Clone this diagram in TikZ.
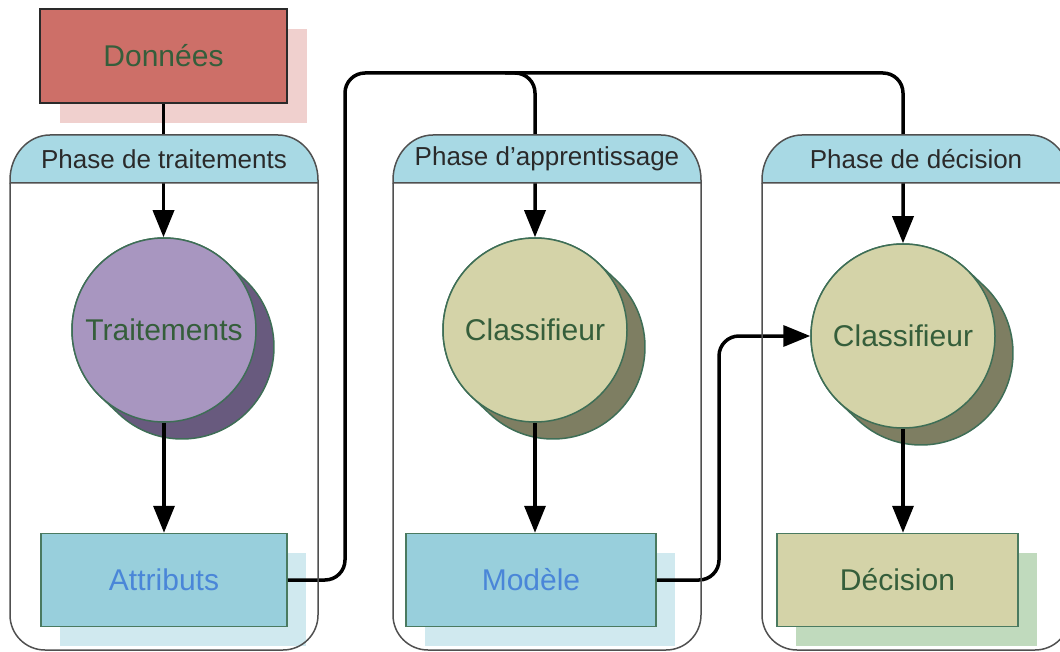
\documentclass[tikz,border=0pt]{standalone}
\usepackage{fontspec}
\setmainfont{Liberation Sans}
\usetikzlibrary{arrows.meta,calc,positioning,shadows,backgrounds}
\definecolor{rougeDon}{HTML}{CD6F68}
\definecolor{ombreRouge}{HTML}{F0D0CE}
\definecolor{texteVert}{HTML}{355E3B}
\definecolor{texteBleu}{HTML}{4A86D8}
\definecolor{texteTitre}{HTML}{2A2A2A}
\definecolor{lavande}{HTML}{A896C0}
\definecolor{ombreLavande}{HTML}{685A7E}
\definecolor{olive}{HTML}{D4D3A8}
\definecolor{ombreOlive}{HTML}{7E7E62}
\definecolor{bleuBoite}{HTML}{98CFDC}
\definecolor{ombreBleue}{HTML}{D0E9EF}
\definecolor{ombreVerte}{HTML}{C0DABD}
\definecolor{bleuTitre}{HTML}{A8D9E4}
\definecolor{bordDisque}{HTML}{3E6E56}
\definecolor{bordBoite}{HTML}{4A7A60}
\definecolor{bordPhase}{HTML}{505050}
\newcommand{\ombreDisque}[2]{%
	\path[fill=#2, draw=bordDisque, line width=1.5pt] ($(#1.center)+(133.4:92)$) -- ++(18,17) arc[start angle=133.4, end angle=-46.6, radius=92] -- ++(-18,-17) arc[start angle=-46.6, end angle=-226.6, radius=92] -- cycle;
}
\tikzset{/flux/boite/.style={
rectangle, draw=bordBoite, line width=1.5pt, inner sep=0, minimum height=93pt, minimum width=246pt, font=\fontsize{30}{36}\selectfont
}}
\tikzset{/flux/disque/.style={
circle, draw=bordDisque, line width=1.5pt, inner sep=0, minimum size=184pt, text=texteVert, font=\fontsize{30}{36}\selectfont
}}
\tikzset{/flux/fleche/.style={draw, line width=3.5pt, rounded corners=20pt, -{Triangle[length=27pt, width=21pt]}
}}
\tikzset{/flux/phase/.style={draw=bordPhase, line width=1.5pt
}}
\tikzset{/flux/titre/.style={inner sep=0, text=texteTitre, font=\fontsize{26}{30}\selectfont
}}
\begin{document}
\begin{tikzpicture}[x=1pt, y=-1pt]
			\useasboundingbox (0,0) rectangle (1060,652);
			\path (163.5,56) node[/flux/boite, minimum width=247pt, minimum height=94pt, fill=rougeDon, draw=texteTitre, text=texteVert, general shadow={shadow xshift=20pt, shadow yshift=-20pt, fill=ombreRouge, draw=none}] (Donnees) {Données};
			\path (164,330) node[/flux/disque, fill=lavande] (Trait) {Traitements};
			\path (Trait.south) ++(0, 110) node[/flux/boite, anchor=north, fill=bleuBoite, text=texteBleu, general shadow={shadow xshift=19pt, shadow yshift=-19pt, fill=ombreBleue, draw=none}] (Attr) {Attributs};
			\path (535,330) node[/flux/disque, fill=olive] (Clas1) {Classifieur};
			\path (Clas1.south) ++(-4, 110) node[/flux/boite, anchor=north, minimum width=250pt, fill=bleuBoite, text=texteBleu, general shadow={shadow xshift=19pt, shadow yshift=-19pt, fill=ombreBleue, draw=none}] (Modele) {Modèle};
			\path (903,336) node[/flux/disque, fill=olive] (Clas2) {Classifieur};
			\path (Clas2.south) ++(-5.5, 104) node[/flux/boite, anchor=north, minimum width=241pt, fill=olive, text=texteVert, general shadow={shadow xshift=19pt, shadow yshift=-19pt, fill=ombreVerte, draw=none}] (Decision) {Décision};
			\begin{scope}[on background layer]
				\ombreDisque{Trait}{ombreLavande}
				\ombreDisque{Clas1}{ombreOlive}
				\ombreDisque{Clas2}{ombreOlive}
			\end{scope}
			% liaisons
			\coordinate (Bus) at (345,73);
			\coordinate (Embranchement) at ($(Clas1.north |- Bus)+(-30,0)$);
			\coordinate (Virage) at (719,336);
			\path[/flux/fleche] (Donnees.south) -- (Donnees.south |- Trait.north);
			\path[/flux/fleche] (Trait) -- (Attr);
			\path[/flux/fleche] (Clas1.south) -- (Clas1.south |- Modele.north);
			\path[/flux/fleche] (Clas2.south) -- (Clas2.south |- Decision.north);
			\path[/flux/fleche] (Attr.east) -| (Bus) -| (Clas1.north);
			\path[/flux/fleche] (Embranchement) -| (Clas2.north);
			\path[/flux/fleche] (Modele.east) -| (Virage) -- (Clas2.west);
			% phases
			\foreach \xa/\nom/\titre in {10/PhTrait/Phase de traitements, 393/PhApp/Phase d’apprentissage, 762/PhDec/Phase de décision}{
				\pgfmathsetmacro{\xb}{\xa+308}
				\path[/flux/phase, rounded corners=35pt] (\xa,183) -- (\xa,650) -- (\xb,650) -- (\xb,183);
				\path[/flux/phase, fill=bleuTitre] (\xa,183) -- (\xa,180) arc[start angle=180, end angle=270, x radius=40, y radius=45] -- ({\xb-40},135) arc[start angle=270, end angle=360, x radius=40, y radius=45] -- (\xb,183) -- cycle;
				\path ({\xa+154},159) node[/flux/titre] (\nom) {\titre};
			}
		\end{tikzpicture}
\end{document}
